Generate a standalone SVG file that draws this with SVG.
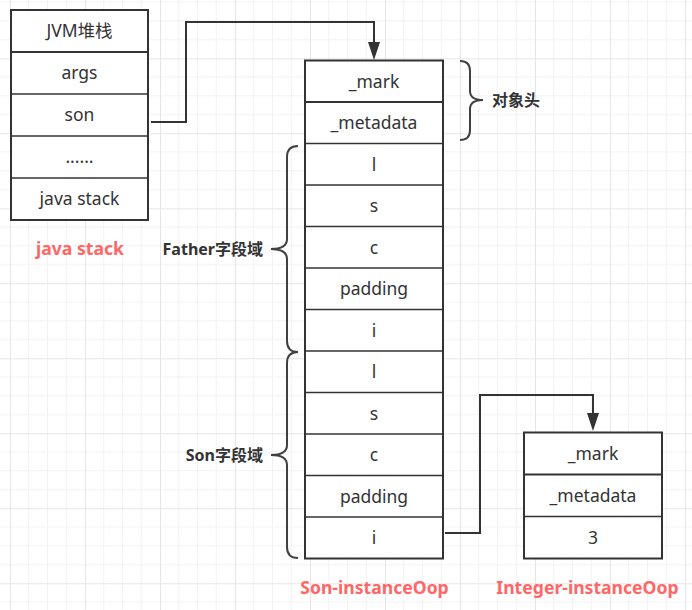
<svg xmlns="http://www.w3.org/2000/svg" width="692" height="610" viewBox="0 0 692 610">
<defs>
<pattern id="grid" x="10" y="-16.7" width="75" height="75" patternUnits="userSpaceOnUse">
<path d="M18.75 0V75M37.5 0V75M56.25 0V75M0 18.75H75M0 37.5H75M0 56.25H75" stroke="#f2f2f2" stroke-width="1" fill="none"/>
<path d="M0.5 0V75M0 0.5H75" stroke="#e6e6e6" stroke-width="1" fill="none"/>
</pattern>
<marker id="arrow" viewBox="0 0 18 12" refX="0" refY="6" markerWidth="18" markerHeight="12" markerUnits="userSpaceOnUse" orient="auto">
<path d="M0 0L18 6L0 12Z" fill="#333"/>
</marker>
<style>
.box{fill:#fff;stroke:#333;stroke-width:2}
.div{stroke:#333;stroke-width:1.3}
.hdiv{stroke:#333;stroke-width:2.2}
.t{font-family:"Noto Sans","Noto Sans CJK SC",sans-serif;font-size:17.5px;fill:#333;text-anchor:middle}
.lbl{font-family:"Noto Sans","Noto Sans CJK SC",sans-serif;font-size:16px;font-weight:bold;fill:#333}
.red{font-family:"Noto Sans","Noto Sans CJK SC",sans-serif;font-size:17.6px;font-weight:bold;fill:#ff6666;text-anchor:middle}
.brace{fill:none;stroke:#404040;stroke-width:2}
.conn{fill:none;stroke:#333;stroke-width:2}
</style>
</defs>
<rect width="692" height="610" fill="#fff"/>
<rect width="692" height="610" fill="url(#grid)"/>

<g id="jvm-stack">
<rect class="box" x="11" y="10" width="137" height="210"/>
<line class="hdiv" x1="11" y1="52" x2="148" y2="52"/>
<line class="div" x1="11" y1="94" x2="148" y2="94"/>
<line class="div" x1="11" y1="136" x2="148" y2="136"/>
<line class="div" x1="11" y1="178" x2="148" y2="178"/>
<text class="t" x="79.5" y="37">JVM堆栈</text>
<text class="t" x="79.5" y="79">args</text>
<text class="t" x="79.5" y="121">son</text>
<text class="t" x="79.5" y="163">......</text>
<text class="t" x="79.5" y="205">java stack</text>
<text class="red" x="80" y="255">java stack</text>
</g>

<g id="son-instanceOop">
<rect class="box" x="305" y="60.5" width="138" height="498"/>
<line class="hdiv" x1="305" y1="102" x2="443" y2="102"/>
<line class="div" x1="305" y1="143.5" x2="443" y2="143.5"/>
<line class="div" x1="305" y1="185" x2="443" y2="185"/>
<line class="div" x1="305" y1="226.5" x2="443" y2="226.5"/>
<line class="div" x1="305" y1="268" x2="443" y2="268"/>
<line class="div" x1="305" y1="309.5" x2="443" y2="309.5"/>
<line class="div" x1="305" y1="351" x2="443" y2="351"/>
<line class="div" x1="305" y1="392.5" x2="443" y2="392.5"/>
<line class="div" x1="305" y1="434" x2="443" y2="434"/>
<line class="div" x1="305" y1="475.5" x2="443" y2="475.5"/>
<line class="div" x1="305" y1="517" x2="443" y2="517"/>
<text class="t" x="374" y="87.5">_mark</text>
<text class="t" x="374" y="129">_metadata</text>
<text class="t" x="374" y="170.5">l</text>
<text class="t" x="374" y="212">s</text>
<text class="t" x="374" y="253.5">c</text>
<text class="t" x="374" y="295">padding</text>
<text class="t" x="374" y="336.5">i</text>
<text class="t" x="374" y="378">l</text>
<text class="t" x="374" y="419.5">s</text>
<text class="t" x="374" y="461">c</text>
<text class="t" x="374" y="502.5">padding</text>
<text class="t" x="374" y="544">i</text>
<text class="red" x="374.5" y="594">Son-instanceOop</text>
</g>

<g id="integer-instanceOop">
<rect class="box" x="524" y="432.5" width="138" height="126"/>
<line class="hdiv" x1="524" y1="474.5" x2="662" y2="474.5"/>
<line class="div" x1="524" y1="516.5" x2="662" y2="516.5"/>
<text class="t" x="593" y="459.5">_mark</text>
<text class="t" x="593" y="501.5">_metadata</text>
<text class="t" x="593" y="543.5">3</text>
<text class="red" x="587.5" y="594">Integer-instanceOop</text>
</g>

<g id="object-header-brace">
<path class="brace" d="M460 61Q470 61 470 71V91Q470 100 483 100Q470 100 470 109V130Q470 140 460 140"/>
<text class="lbl" x="492" y="105.5">对象头</text>
</g>

<g id="father-fields-brace">
<path class="brace" d="M298 146Q287 146 287 157V239Q287 249 271 249Q287 249 287 259V341Q287 352 298 352"/>
<text class="lbl" x="263" y="255" text-anchor="end">Father字段域</text>
</g>

<g id="son-fields-brace">
<path class="brace" d="M298 352Q287 352 287 363V445Q287 455 271 455Q287 455 287 465V547Q287 558 298 558"/>
<text class="lbl" x="263" y="461" text-anchor="end">Son字段域</text>
</g>

<g id="connectors">
<polyline class="conn" points="151,122 186,122 186,22 374,22 374,42" marker-end="url(#arrow)"/>
<polyline class="conn" points="445,533 480,533 480,395 593,395 593,413" marker-end="url(#arrow)"/>
</g>
</svg>
